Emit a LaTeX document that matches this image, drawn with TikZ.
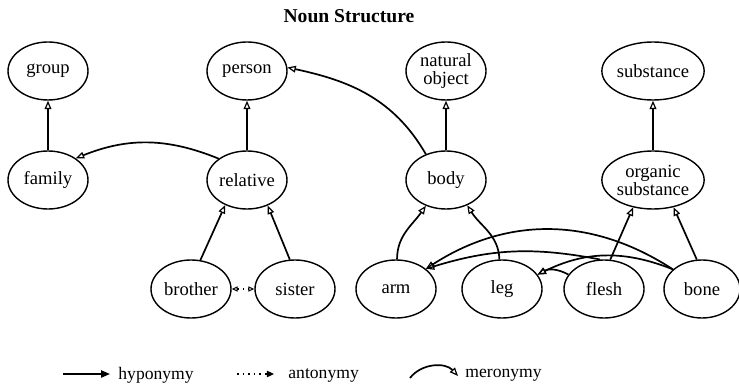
\documentclass[tikz,border=0pt]{standalone}
\usepackage{fontspec}
\setmainfont{Liberation Serif}
\usetikzlibrary{shapes.geometric,arrows.meta}
\begin{document}
\begin{tikzpicture}[x=0.5pt,y=-0.5pt,
  concept/.style={ellipse,draw,line width=0.7pt,inner sep=0pt,minimum width=40pt,minimum height=29pt,align=center,font=\fontsize{9.3}{9}\selectfont},
  tip/.style={-{Triangle[open,length=4.2pt,width=3.4pt,line width=0.6pt]}},
  hyp/.style={tip,line width=0.85pt},
  ant/.style={{Triangle[open,length=3pt,width=2.6pt,line width=0.5pt]}-{Triangle[open,length=3pt,width=2.6pt,line width=0.5pt]},line width=0.7pt,dotted},
  mer/.style={tip,line width=0.85pt},
  legtext/.style={anchor=west,font=\fontsize{8.8}{9}\selectfont,inner sep=0pt}]
\useasboundingbox (0,0) rectangle (739,384);
\node[font=\bfseries\fontsize{9.8}{10}\selectfont] (title) at (349,16) {Noun Structure};
% top row
\node[concept] (group) at (48,71) {group};
\node[concept] (person) at (247,71) {person};
\node[concept] (natobj) at (446,71) {natural\\object};
\node[concept] (substance) at (653,71) {substance};
% middle row
\node[concept] (family) at (48,180) {family};
\node[concept] (relative) at (247,180) {relative};
\node[concept] (body) at (446,180) {body};
\node[concept,minimum width=41pt] (organic) at (653,180) {organic\\substance};
% bottom row
\node[concept] (brother) at (191,289) {brother};
\node[concept] (sister) at (295,289) {sister};
\node[concept] (arm) at (396,289) {arm};
\node[concept] (leg) at (502,289) {leg};
\node[concept] (flesh) at (604,289) {flesh};
\node[concept,minimum width=38pt] (bone) at (702,289) {bone};
% hyponymy
\draw[hyp] (family) -- (group);
\draw[hyp] (relative) -- (person);
\draw[hyp] (body) -- (natobj);
\draw[hyp] (organic) -- (substance);
\draw[hyp] (relative.143) to[bend right=22] (family.38);
\draw[hyp] (body.128) to[out=120,in=-12] (person.5);
\draw[hyp] (brother.72) -- (relative.229);
\draw[hyp] (sister.100) -- (relative.-51);
\draw[hyp] (arm.88) to[out=90,in=-125] (body.232);
\draw[hyp] (leg.95) to[out=92,in=-58] (body.-50);
\draw[hyp] (flesh.78) -- (organic.-126);
\draw[hyp] (bone.100) -- (organic.-53);
% antonymy
\draw[ant] (brother) -- (sister);
% meronymy
\draw[mer] (bone.146) to[bend right=33] (arm.34);
\draw[mer] (flesh.98) to[bend right=14] (arm.34);
\draw[mer] (bone.146) to[bend right=24] (leg.22);
\draw[mer] (flesh.158) to[bend right=30] (leg.22);
% legend
\coordinate (h1) at (63,374); \coordinate (h2) at (110,374);
\draw[-{Triangle[length=4.5pt,width=3.6pt]},line width=0.85pt] (h1) -- (h2);
\node[legtext] (hl) at (118,375) {hyponymy};
\coordinate (a1) at (237,374); \coordinate (a2) at (274,374);
\draw[-{Triangle[length=3.6pt,width=3.2pt]},line width=0.8pt,dotted] (a1) -- (a2);
\node[legtext] (al) at (288,375) {antonymy};
\coordinate (m1) at (410,378); \coordinate (m2) at (458,376);
\draw[mer] (m1) to[bend left=50] (m2);
\node[legtext] (ml) at (465,375) {meronymy};
\end{tikzpicture}
\end{document}
